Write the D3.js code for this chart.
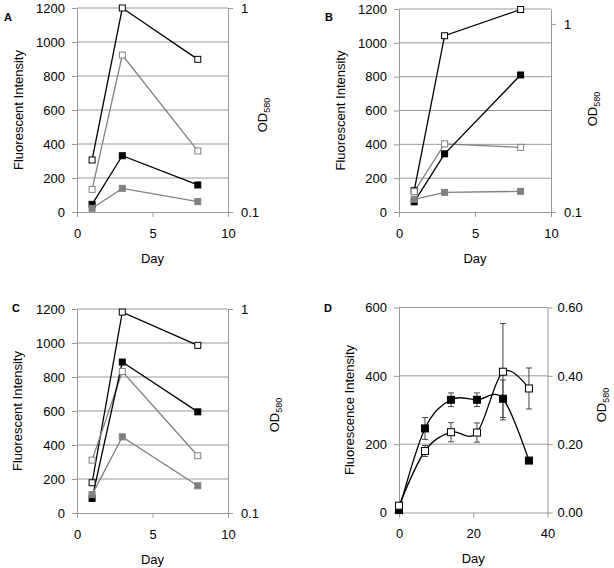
<html><head>
<meta charset="utf-8">
<title>Fluorescence panels</title>
<script src="https://d3js.org/d3.v7.min.js"></script>
<style>
  body { margin: 0; background: #fff; }
  text { font-family: "Liberation Sans", Arial, sans-serif; fill: #000; }
</style>
</head>
<body>
<div id="chart"></div>
<script>
    // ---- data ----
    const daysABC = [1, 3, 8];
    const aOpenBlack = [306, 1200, 898];
    const aOpenGray  = [133, 923, 359];
    const aFillBlack = [45, 331, 159];
    const aFillGray  = [22, 139, 61];

    const bOpenBlack = [126, 1042, 1197];
    const bOpenGray  = [120, 403, 382];
    const bFillBlack = [60, 344, 810];
    const bFillGray  = [75, 116, 122];

    const cOpenBlack = [178, 1182, 986];
    const cOpenGray  = [311, 832, 337];
    const cFillBlack = [86, 888, 595];
    const cFillGray  = [108, 448, 160];

    const daysD = [0, 7, 14, 21, 28, 35];
    const dFill    = [7, 246, 330, 330, 333, 152];
    const dFillErr = [0, 32, 20, 20, 55, 0];
    const dOpen    = [20, 180, 235, 234, 412, 363];
    const dOpenErr = [0, 16, 28, 28, 141, 60];

    const leftTicksABC = [0, 200, 400, 600, 800, 1000, 1200];
    const xTicksABC = [0, 5, 10];
    const rightTicksABC = [0.1, 1];
    const leftTicksD = [0, 200, 400, 600];
    const xTicksD = [0, 20, 40];
    const rightTicksD = [0, 0.2, 0.4, 0.6];

    const axisColor = "#999";
    const gray = "#808080";

    const svg = d3.select("#chart").append("svg")
        .attr("width", 614).attr("height", 568);

    function panel(p) {
        const g = svg.append("g");
        const x = d3.scaleLinear().domain(p.xDomain).range([p.x0, p.x1]);
        const y = d3.scaleLinear().domain(p.yDomain).range([p.y1, p.y0]);
        const yr = p.rightScale.range([p.y1, p.y0]);

        // gridlines
        g.selectAll(".grid").data(p.leftTicks.slice(1)).join("line")
            .attr("x1", p.x0).attr("x2", p.x1)
            .attr("y1", d => y(d)).attr("y2", d => y(d))
            .attr("stroke", axisColor).attr("stroke-width", 1);

        // axes
        const left = g.append("g").attr("transform", "translate(" + p.x0 + ",0)")
            .call(d3.axisLeft(y).tickValues(p.leftTicks).tickSize(5).tickSizeOuter(0)
                .tickPadding(7).tickFormat(d3.format("d")));
        const right = g.append("g").attr("transform", "translate(" + p.x1 + ",0)")
            .call(d3.axisRight(yr).tickValues(p.rightTicks).tickSize(5).tickSizeOuter(0)
                .tickPadding(p.rightPad).tickFormat(p.rightFormat));
        const bottom = g.append("g").attr("transform", "translate(0," + p.y1 + ")")
            .call(d3.axisBottom(x).tickValues(p.xTicks).tickSize(5).tickSizeOuter(0)
                .tickFormat(d3.format("d")));
        [left, right, bottom].forEach(a => {
            a.select(".domain").attr("stroke", axisColor);
            a.selectAll(".tick line").attr("stroke", axisColor);
            a.selectAll("text").attr("font-size", 13).attr("font-family", null).attr("fill", "#000");
        });
        bottom.selectAll("text").attr("y", 25.5).attr("dy", 0);

        // titles
        g.append("text").attr("x", p.letterX).attr("y", p.letterY)
            .attr("font-size", 11).attr("font-weight", "bold").text(p.letter);
        g.append("text")
            .attr("transform", "translate(" + (p.x0 + p.yTitleDx) + "," + ((p.y0 + p.y1) / 2) + ") rotate(-90)")
            .attr("text-anchor", "middle").attr("font-size", 13).text(p.yTitle);
        const od = g.append("text")
            .attr("transform", "translate(" + (p.x1 + p.odDx) + "," + p.odY + ") rotate(-90)")
            .attr("text-anchor", "middle").attr("font-size", 13);
        od.append("tspan").text("OD");
        od.append("tspan").attr("font-size", 9).attr("dy", 3).text("580");
        g.append("text").attr("x", (p.x0 + p.x1) / 2).attr("y", p.y1 + 50.5)
            .attr("text-anchor", "middle").attr("font-size", 13).text("Day");

        return {g, x, y};
    }

    function simpleSeries(pl, days, vals, color, curve) {
        const pts = days.map((d, i) => [d, vals[i]]);
        pl.g.append("path").datum(pts)
            .attr("fill", "none").attr("stroke", color).attr("stroke-width", 1.3)
            .attr("d", d3.line().x(d => pl.x(d[0])).y(d => pl.y(d[1])).curve(curve || d3.curveLinear));
        return pts;
    }

    function markers(pl, pts, color, filled, size) {
        pl.g.selectAll(null).data(pts).join("rect")
            .attr("x", d => pl.x(d[0]) - size / 2).attr("y", d => pl.y(d[1]) - size / 2)
            .attr("width", size).attr("height", size)
            .attr("fill", filled ? color : "#fff")
            .attr("stroke", color).attr("stroke-width", 1);
    }

    const abc = [
        {letter: "A", letterX: 4, letterY: 21, x0: 77, x1: 228, y0: 8, y1: 212,
         rightScale: d3.scaleLog().domain([0.1, 1]), yTitleDx: -54.5, odDx: 39, odY: 115,
         series: [aOpenBlack, aOpenGray, aFillBlack, aFillGray]},
        {letter: "B", letterX: 325, letterY: 21, x0: 399, x1: 551, y0: 9, y1: 212,
         rightScale: d3.scaleLog().domain([0.1, 1.2]), yTitleDx: -54.4, odDx: 46, odY: 109,
         series: [bOpenBlack, bOpenGray, bFillBlack, bFillGray]},
        {letter: "C", letterX: 12, letterY: 312, x0: 77, x1: 228, y0: 309, y1: 513,
         rightScale: d3.scaleLog().domain([0.1, 1]), yTitleDx: -55, odDx: 51, odY: 415,
         series: [cOpenBlack, cOpenGray, cFillBlack, cFillGray]}
    ];

    abc.forEach(p => {
        const pl = panel(Object.assign({
            xDomain: [0, 10], yDomain: [0, 1200], leftTicks: leftTicksABC, xTicks: xTicksABC,
            rightTicks: rightTicksABC, rightFormat: d3.format(""), rightPad: 8,
            yTitle: "Fluorescent Intensity"
        }, p));
        const styles = [["#000", false], [gray, false], ["#000", true], [gray, true]];
        const all = p.series.map((s, i) => simpleSeries(pl, daysABC, s, styles[i][0]));
        all.forEach((pts, i) => markers(pl, pts, styles[i][0], styles[i][1], 6));
    });

    // panel D
    const pd = panel({
        letter: "D", letterX: 324, letterY: 312, x0: 399, x1: 547.5, y0: 307.5, y1: 512.5,
        xDomain: [0, 40], yDomain: [0, 600], leftTicks: leftTicksD, xTicks: xTicksD,
        rightScale: d3.scaleLinear().domain([0, 0.6]), rightTicks: rightTicksD,
        rightFormat: d3.format(".2f"), rightPad: 5,
        yTitle: "Fluorescence Intensity", yTitleDx: -45.5, odDx: 58.5, odY: 405
    });
    const smooth = d3.curveCatmullRom.alpha(0);
    const fillPts = simpleSeries(pd, daysD, dFill, "#000", smooth);
    const openPts = simpleSeries(pd, daysD, dOpen, "#000", smooth);

    function errorBars(pl, days, vals, errs) {
        const data = days.map((d, i) => ({d: d, v: vals[i], e: errs[i]})).filter(o => o.e > 0);
        const eg = pl.g.append("g").attr("stroke", "#444").attr("stroke-width", 1);
        eg.selectAll(null).data(data).join("line")
            .attr("x1", o => pl.x(o.d)).attr("x2", o => pl.x(o.d))
            .attr("y1", o => pl.y(o.v - o.e)).attr("y2", o => pl.y(o.v + o.e));
        [-1, 1].forEach(s => {
            eg.selectAll(null).data(data).join("line")
                .attr("x1", o => pl.x(o.d) - 3).attr("x2", o => pl.x(o.d) + 3)
                .attr("y1", o => pl.y(o.v + s * o.e)).attr("y2", o => pl.y(o.v + s * o.e));
        });
    }
    errorBars(pd, daysD, dFill, dFillErr);
    errorBars(pd, daysD, dOpen, dOpenErr);
    markers(pd, fillPts, "#000", true, 7);
    markers(pd, openPts, "#000", false, 7);
</script>
</body></html>
